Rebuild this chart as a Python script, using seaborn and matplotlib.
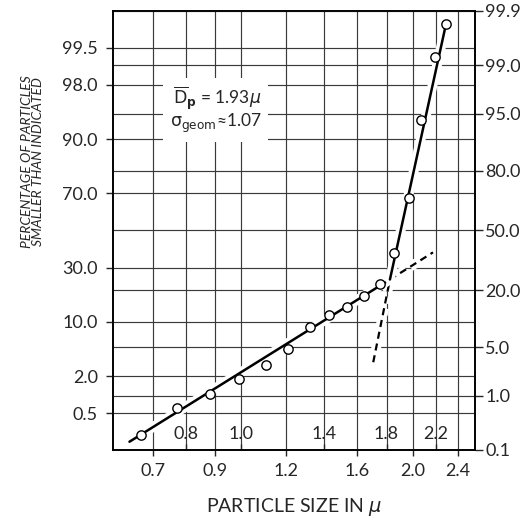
import numpy as np
import pandas as pd
import matplotlib
matplotlib.use("Agg")
import matplotlib.pyplot as plt
import matplotlib.ticker as mticker
import matplotlib.patheffects as pe
import seaborn as sns
from statistics import NormalDist

# ---- data ----
size_um = [0.668, 0.772, 0.882, 0.992, 1.106, 1.209, 1.321, 1.427, 1.535,
           1.644, 1.750, 1.855, 1.972, 2.066, 2.186, 2.289]
pct_smaller = [0.20, 0.62, 1.06, 1.82, 2.91, 4.76, 8.7, 11.7, 14.1,
               17.8, 22.6, 37.8, 67.8, 94.0, 99.28, 99.82]

fine_x = [0.637, 1.825]          # lower population fit
fine_p = [0.147, 24.5]
fine_ext_x = [1.825, 2.172]      # dashed extension
fine_ext_p = [24.5, 37.9]
coarse_x = [1.825, 2.290]        # upper population fit
coarse_p = [24.5, 99.82]
coarse_ext_x = [1.706, 1.825]    # dashed extension
coarse_ext_p = [3.18, 24.5]

x_major = [0.7, 0.9, 1.2, 1.6, 2.0, 2.4]
x_minor = [0.8, 1.0, 1.4, 1.8, 2.2]
y_left = [0.5, 2.0, 10.0, 30.0, 70.0, 90.0, 98.0, 99.5]
y_right = [0.1, 1.0, 5.0, 20.0, 50.0, 80.0, 95.0, 99.0, 99.9]

# ---- style ----
sns.set_style("ticks")
plt.rcParams["font.family"] = ["Lato", "DejaVu Sans"]
plt.rcParams["mathtext.fontset"] = "dejavusans"

nd = NormalDist()
_inv = np.vectorize(nd.inv_cdf, otypes=[float])
_cdf = np.vectorize(nd.cdf, otypes=[float])


def fwd(p):
    p = np.clip(np.asarray(p, dtype=float) / 100.0, 1e-9, 1 - 1e-9)
    return _inv(p)


def inv(z):
    return _cdf(np.asarray(z, dtype=float)) * 100.0


fig = plt.figure(figsize=(5.2, 5.21), dpi=100)
ax = fig.add_axes([0.2173, 0.1363, 0.6962, 0.8426])
ax.set_xscale("log")
ax.set_yscale("function", functions=(fwd, inv))
ax.set_xlim(0.596, 2.574)
ax.set_ylim(0.1, 99.9)

grid_kw = dict(color="#3a3a3a", linewidth=0.85)
gap = [pe.Stroke(linewidth=7, foreground="white"), pe.Normal()]

# data
pts = pd.DataFrame({"size": size_um, "pct": pct_smaller})
for xs, ps, ls, lw in [(fine_ext_x, fine_ext_p, (0, (3.2, 2.2)), 1.6),
                       (coarse_ext_x, coarse_ext_p, (0, (3.2, 2.2)), 1.6),
                       (fine_x, fine_p, "-", 1.8),
                       (coarse_x, coarse_p, "-", 1.8)]:
    sns.lineplot(x=xs, y=ps, ax=ax, color="black", linewidth=lw,
                 linestyle=ls, zorder=4, path_effects=gap)
sns.scatterplot(data=pts, x="size", y="pct", ax=ax, marker="o", s=45,
                facecolor="white", edgecolor="black", linewidth=1.0, zorder=5)

# x axis ticks
ax.xaxis.set_major_locator(mticker.FixedLocator(x_major))
ax.xaxis.set_minor_locator(mticker.FixedLocator(x_minor))
ax.xaxis.set_major_formatter(mticker.FormatStrFormatter("%.1f"))
ax.xaxis.set_minor_formatter(mticker.FormatStrFormatter("%.1f"))
ax.tick_params(axis="x", which="major", direction="out", length=4.5, width=1,
               pad=5, labelsize=13)
ax.tick_params(axis="x", which="minor", direction="in", length=4, width=1,
               pad=-17, labelsize=13)

# y axis ticks (left)
ax.yaxis.set_major_locator(mticker.FixedLocator(y_left))
ax.yaxis.set_minor_locator(mticker.FixedLocator(y_right))
ax.yaxis.set_major_formatter(mticker.FormatStrFormatter("%.1f"))
ax.yaxis.set_minor_formatter(mticker.NullFormatter())
ax.tick_params(axis="y", which="major", direction="out", length=5, width=1,
               pad=6, labelsize=13)
ax.tick_params(axis="y", which="minor", length=0)

ax.grid(True, which="both", **grid_kw)
ax.set_axisbelow(True)

# right axis
ax2 = ax.twinx()
ax2.set_yscale("function", functions=(fwd, inv))
ax2.set_ylim(ax.get_ylim())
ax2.yaxis.set_major_locator(mticker.FixedLocator(y_right))
ax2.yaxis.set_minor_locator(mticker.NullLocator())
ax2.yaxis.set_major_formatter(mticker.FormatStrFormatter("%.1f"))
ax2.tick_params(axis="y", which="major", direction="out", length=5.5, width=1,
                pad=2, labelsize=13)
ax.set_zorder(ax2.get_zorder() + 1)
ax.patch.set_visible(False)

for a in (ax, ax2):
    for sp in a.spines.values():
        sp.set_linewidth(1.2)
        sp.set_color("black")

# labels
ax.set_xlabel(r"PARTICLE SIZE IN $\mu$", fontsize=14, labelpad=12)
ax.set_ylabel("PERCENTAGE OF PARTICLES\nSMALLER THAN INDICATED",
              fontsize=10, fontstyle="italic", linespacing=0.95)
ax.yaxis.set_label_coords(-0.19, 0.656)

ax.text(0.41, 0.775,
        r"$\overline{\mathrm{D}}_{\mathbf{p}}$" + " = 1.93" + r"$\mu$" + "\n"
        + r"$\mathrm{\sigma}_{\mathrm{geom}}$" + "\u2248" + "1.07",
        transform=ax.transAxes, ha="right", va="center", multialignment="right",
        fontsize=12.5, linespacing=1.05, zorder=6,
        bbox=dict(boxstyle="square,pad=0.35", facecolor="white", edgecolor="none"))

fig.savefig("out.png", dpi=100)
